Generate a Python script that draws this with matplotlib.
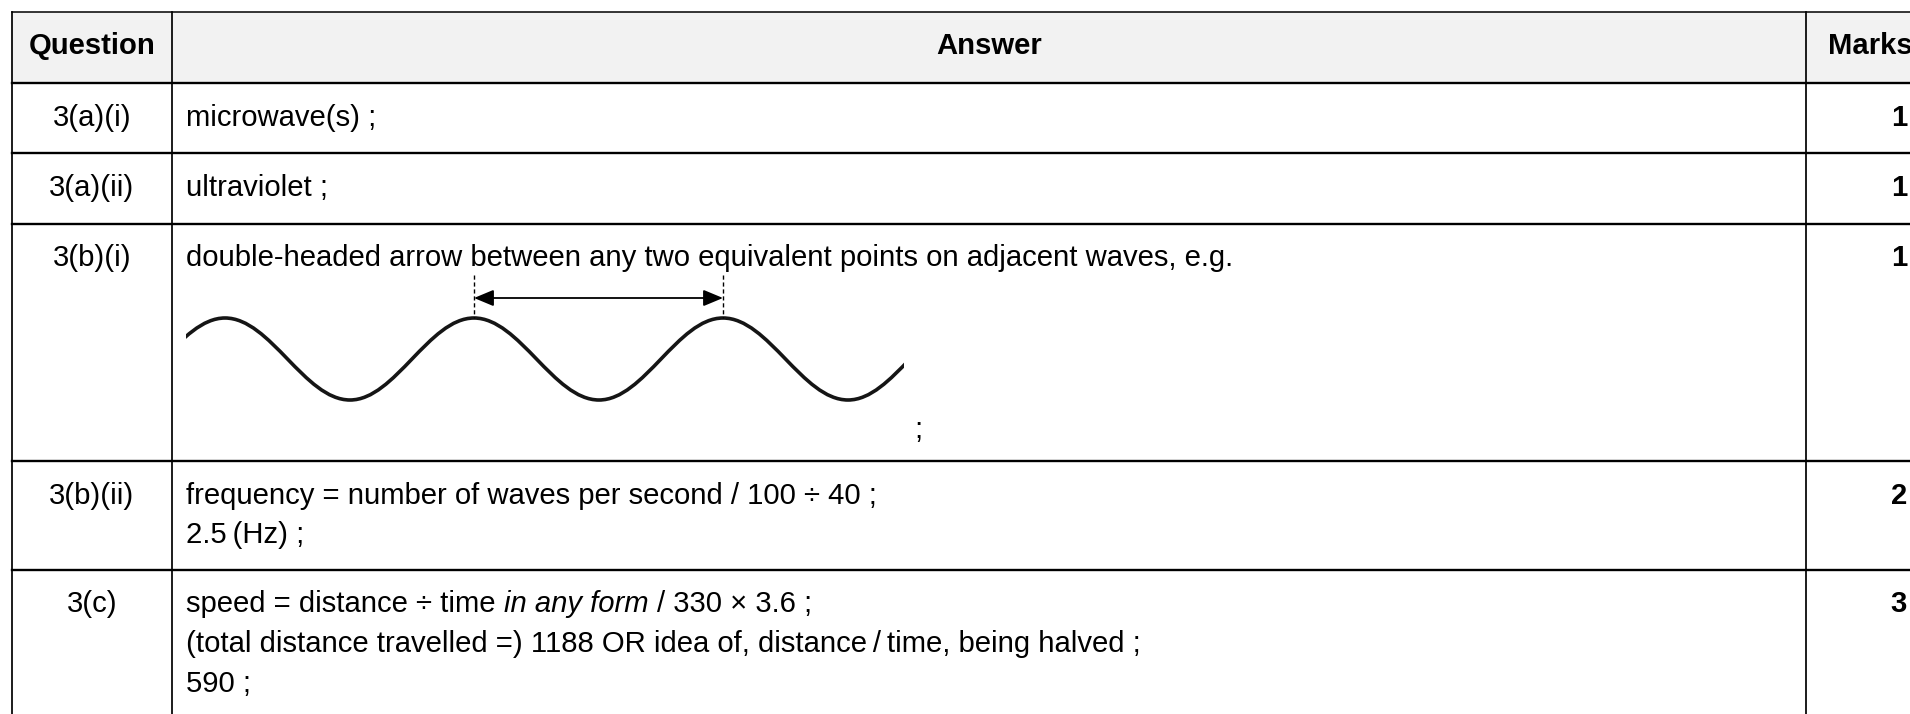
import matplotlib.pyplot as plt
from matplotlib.path import Path
from matplotlib.patches import PathPatch, Rectangle

plt.rcParams['font.family'] = ['Liberation Sans', 'DejaVu Sans']

# TABLE CONTENT
headers = ["Question", "Answer", "Marks"]
questions = ["3(a)(i)", "3(a)(ii)", "3(b)(i)", "3(b)(ii)", "3(c)"]
answers = [
    [["microwave(s) ;"]],
    [["ultraviolet ;"]],
    [["double-headed arrow between any two equivalent points on adjacent waves, e.g."]],
    [["frequency = number of waves per second / 100 ÷ 40 ;"], ["2.5\u2009(Hz) ;"]],
    [["speed = distance ÷ time", "*in any form", "/ 330 × 3.6 ;"],
     ["(total distance travelled =) 1188 OR idea of, distance\u2009/\u2009time, being halved ;"],
     ["590 ;"]],
]
marks = [1, 1, 1, 2, 3]

# wave sketch in row 3(b)(i): crest / trough positions (pixels)
crest_x = [225, 474, 723, 972]
trough_x = [101, 350, 599, 848]
crest_y, trough_y = 318, 400

# LAYOUT (pixels)
W, H = 1910, 714
row_edges = [12, 83, 153, 224, 461, 570, 800]
x_left, x_q, x_m = 12, 172, 1806
fs = 21.1
base_off = 42.5
line_gap = 39.5
space_w = 8.2

fig = plt.figure(figsize=(W / 100, H / 100), dpi=100)
ax = fig.add_axes([0, 0, 1, 1])
ax.set_xlim(0, W)
ax.set_ylim(H, 0)
ax.axis("off")
renderer = fig.canvas.get_renderer()

# header background
ax.add_patch(Rectangle((x_left, row_edges[0]), W, row_edges[1] - row_edges[0],
                       facecolor="#f2f2f2", edgecolor="none"))

# grid lines
ax.plot([x_left, W + 5], [row_edges[0]] * 2, color="black", lw=1.1)
for y in row_edges[1:-1]:
    ax.plot([x_left, W + 5], [y, y], color="black", lw=1.7)
for x in [x_left, x_q, x_m]:
    ax.plot([x, x], [row_edges[0], H + 5], color="black", lw=1.25)

# header text
hb = row_edges[0] + base_off
ax.text((x_left + x_q) / 2, hb, headers[0], ha="center", va="baseline",
        fontsize=fs, fontweight="bold")
ax.text((x_q + x_m) / 2, hb, headers[1], ha="center", va="baseline",
        fontsize=fs, fontweight="bold")
ax.text(1828, hb, headers[2], ha="left", va="baseline",
        fontsize=fs, fontweight="bold")

# body rows
for i, q in enumerate(questions):
    base = row_edges[i + 1] + base_off
    ax.text((x_left + x_q) / 2, base, q, ha="center", va="baseline", fontsize=fs)
    ax.text(1907, base, str(marks[i]), ha="right", va="baseline",
            fontsize=fs, fontweight="bold")
    for k, line in enumerate(answers[i]):
        x = 186
        y = base + k * line_gap
        for seg in line:
            style = "normal"
            if seg.startswith("*"):
                seg = seg[1:]
                style = "italic"
            t = ax.text(x, y, seg, ha="left", va="baseline", fontsize=fs, style=style)
            x += t.get_window_extent(renderer).width + space_w

# wave drawn as cubic Bezier half-waves between alternating extremes
pts = sorted([(x, trough_y) for x in trough_x] + [(x, crest_y) for x in crest_x])
verts = [pts[0]]
codes = [Path.MOVETO]
for (x0, y0), (x1, y1) in zip(pts[:-1], pts[1:]):
    a = 0.3634 * (x1 - x0)
    verts += [(x0 + a, y0), (x1 - a, y1), (x1, y1)]
    codes += [Path.CURVE4] * 3
wave = PathPatch(Path(verts, codes), facecolor="none", edgecolor="#151515", lw=2.6)
ax.add_patch(wave)
clip = Rectangle((186, 280), 904 - 186, 140, transform=ax.transData)
wave.set_clip_path(clip)

# dashed markers and double-headed arrow
for xc in crest_x[1:3]:
    ax.plot([xc, xc], [275, crest_y], color="black", lw=1.0, ls=(0, (3, 2)))
ax.annotate("", xy=(crest_x[1], 298), xytext=(crest_x[2], 298),
            arrowprops=dict(arrowstyle="<|-|>,head_length=0.6,head_width=0.25",
                            color="black", lw=1.3, shrinkA=0, shrinkB=0,
                            mutation_scale=20))
ax.text(914, 438, ";", ha="left", va="baseline", fontsize=fs)

fig.savefig("out.png", dpi=100)
